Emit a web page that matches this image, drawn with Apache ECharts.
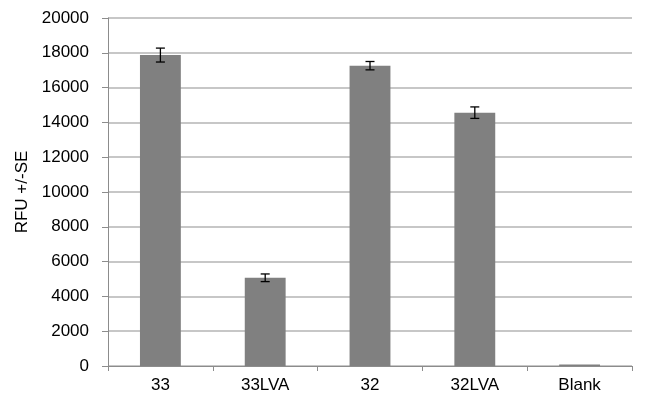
<!DOCTYPE html>
<html><head><meta charset="utf-8">
<script src="https://cdn.jsdelivr.net/npm/echarts@6/dist/echarts.min.js"></script>
<style>html,body{margin:0;padding:0;background:#fff}#c{width:649px;height:398px}</style>
</head><body><div id="c"></div>
<script>
const categories = ['33', '33LVA', '32', '32LVA', 'Blank'];
const values = [17870, 5070, 17260, 14560, 80];
const errors = [400, 220, 240, 330, 0];
const yTicks = [0, 2000, 4000, 6000, 8000, 10000, 12000, 14000, 16000, 18000, 20000];

const chart = echarts.init(document.getElementById('c'), null, {renderer: 'canvas'});
const font = 'Liberation Sans, Arial, sans-serif';
chart.setOption({
  animation: false,
  backgroundColor: '#fff',
  grid: {left: 108, right: 17, top: 18, bottom: 32},
  xAxis: {
    type: 'category', data: categories,
    axisLine: {lineStyle: {color: '#8c8c8c', width: 1}},
    axisTick: {show: true, length: 5, lineStyle: {color: '#8c8c8c'}},
    axisLabel: {color: '#000', fontFamily: font, fontSize: 17, margin: 11}
  },
  yAxis: {
    type: 'value', min: yTicks[0], max: yTicks[yTicks.length - 1], interval: 2000,
    name: 'RFU +/-SE', nameLocation: 'middle', nameGap: 74, nameRotate: 90,
    nameTextStyle: {color: '#000', fontFamily: font, fontSize: 17},
    axisLine: {show: true, lineStyle: {color: '#8c8c8c'}},
    axisTick: {show: true, length: 6, lineStyle: {color: '#8c8c8c'}},
    axisLabel: {color: '#000', fontFamily: font, fontSize: 17, margin: 19,
      formatter: v => String(v)},
    splitLine: {lineStyle: {color: '#b4b4b4', width: 1.5}}
  },
  series: [{
    type: 'bar', data: values, barWidth: '39%',
    itemStyle: {color: '#808080'}
  }, {
    type: 'custom',
    data: values.map((v, i) => [i, v - errors[i], v + errors[i]]),
    renderItem: function (params, api) {
      const lo = api.coord([api.value(0), api.value(1)]);
      const hi = api.coord([api.value(0), api.value(2)]);
      if (Math.abs(lo[1] - hi[1]) < 0.5) return null;
      const w = 4.5;
      const st = {stroke: '#000', lineWidth: 1.3};
      return {type: 'group', children: [
        {type: 'line', shape: {x1: hi[0], y1: hi[1], x2: lo[0], y2: lo[1]}, style: st},
        {type: 'line', shape: {x1: hi[0] - w, y1: hi[1], x2: hi[0] + w, y2: hi[1]}, style: st},
        {type: 'line', shape: {x1: lo[0] - w, y1: lo[1], x2: lo[0] + w, y2: lo[1]}, style: st}
      ]};
    },
    z: 10
  }]
});
</script></body></html>
